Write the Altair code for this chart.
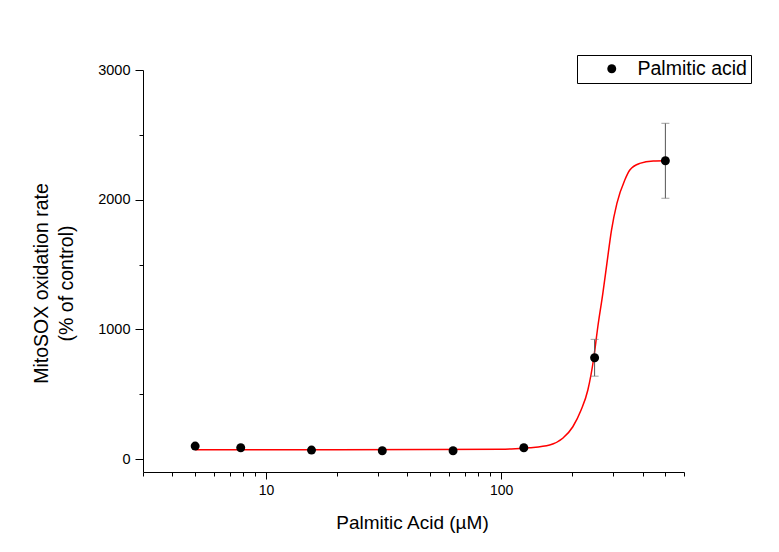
import altair as alt
import pandas as pd

conc = [5, 7.8125, 15.625, 31.25, 62.5, 125, 250, 500]
mean = [100, 87, 69, 64, 64, 87, 781, 2300]
err = [0, 0, 0, 0, 0, 0, 142, 289]

# Fitted curve
curve_x = [5, 20, 50, 100, 115, 132, 161, 183, 202, 219, 234, 248, 258, 271,
           282, 295, 311, 336, 353, 389, 444, 500]
curve_y = [72, 72, 73, 76, 80, 87, 108, 160, 249, 378, 532, 781, 1020, 1278,
           1509, 1766, 1972, 2152, 2229, 2280, 2298, 2300]

x_major = [10, 100]
x_minor = [3, 4, 5, 6, 7, 8, 9, 20, 30, 40, 50, 60, 70, 80, 90,
           200, 300, 400, 500, 600]
y_major = [0, 1000, 2000, 3000]
y_minor = [500, 1500, 2500]

series_name = "Palmitic acid"
x_title = "Palmitic Acid (\u00b5M)"
y_title = ["MitoSOX oxidation rate", "(% of control)"]

pts = pd.DataFrame({
    "conc": conc,
    "mean": mean,
    "lo": [m - e for m, e in zip(mean, err)],
    "hi": [m + e for m, e in zip(mean, err)],
    "series": [series_name] * len(conc),
})
curve = pd.DataFrame({"x": curve_x, "y": curve_y})

FONT = "Liberation Sans"
xscale = alt.Scale(type="log", domain=[3, 600], nice=False)
yscale = alt.Scale(domain=[-100, 3000], nice=False, zero=False)

x_axis_major = alt.Axis(
    orient="bottom", values=x_major, format="d", grid=False,
    tickSize=7, tickColor="black", domainColor="black",
    labelFont=FONT, labelFontSize=14, labelColor="black", labelPadding=4,
    labelFlush=False,
    titleFont=FONT, titleFontSize=19, titleFontWeight="normal",
    titleColor="black", titleX=269, titleY=56, titleBaseline="alphabetic",
)
y_axis_major = alt.Axis(
    orient="left", values=y_major, format="d", grid=False,
    tickSize=8, tickColor="black", domainColor="black",
    labelFont=FONT, labelFontSize=14.5, labelColor="black", labelPadding=5,
    labelFlush=False,
    titleFont=FONT, titleFontSize=19.5, titleFontWeight="normal",
    titleColor="black", titleAngle=270, titleAlign="center",
    titleBaseline="middle", titleLineHeight=25, titleX=-102, titleY=213,
)
x_axis_minor = alt.Axis(
    orient="bottom", values=x_minor, grid=False, labels=False, domain=False,
    tickSize=4, tickColor="black",
)
y_axis_minor = alt.Axis(
    orient="left", values=y_minor, grid=False, labels=False, domain=False,
    tickSize=4, tickColor="black",
)

line = alt.Chart(curve).mark_line(
    color="#ff0000", strokeWidth=1.5, interpolate="monotone"
).encode(
    x=alt.X("x:Q", scale=xscale, axis=x_axis_major, title=x_title),
    y=alt.Y("y:Q", scale=yscale, axis=y_axis_major, title=y_title),
)

rules = alt.Chart(pts).mark_rule(color="#555555", strokeWidth=1).encode(
    x=alt.X("conc:Q", scale=xscale, axis=x_axis_minor, title=None),
    y=alt.Y("lo:Q", scale=yscale, axis=y_axis_minor, title=None),
    y2="hi:Q",
)

caps_lo = alt.Chart(pts).mark_tick(
    color="#777777", orient="horizontal", size=8, thickness=1
).encode(
    x=alt.X("conc:Q", scale=xscale, axis=None),
    y=alt.Y("lo:Q", scale=yscale, axis=None),
)
caps_hi = alt.Chart(pts).mark_tick(
    color="#777777", orient="horizontal", size=8, thickness=1
).encode(
    x=alt.X("conc:Q", scale=xscale, axis=None),
    y=alt.Y("hi:Q", scale=yscale, axis=None),
)

points = alt.Chart(pts).mark_circle(size=80, opacity=1).encode(
    x=alt.X("conc:Q", scale=xscale, axis=None),
    y=alt.Y("mean:Q", scale=yscale, axis=None),
    color=alt.Color(
        "series:N",
        scale=alt.Scale(domain=[series_name], range=["black"]),
        legend=alt.Legend(
            title=None, orient="none", legendX=434, legendY=-15,
            strokeColor="black", fillColor="white", padding=4,
            labelFont=FONT, labelFontSize=19.5, labelColor="black",
            symbolSize=80, symbolType="circle", symbolOffset=21,
            labelOffset=16, symbolStrokeWidth=0,
        ),
    ),
)

chart = alt.layer(line, rules, caps_lo, caps_hi, points).resolve_axis(
    x="independent", y="independent"
).properties(
    width=541, height=402,
    autosize=alt.AutoSizeParams(type="none"),
    padding={"left": 135, "top": 62, "right": 80, "bottom": 70},
    background="white",
).configure_view(stroke=None)

chart.save("out.html", embed_options={"renderer": "svg", "actions": False})
